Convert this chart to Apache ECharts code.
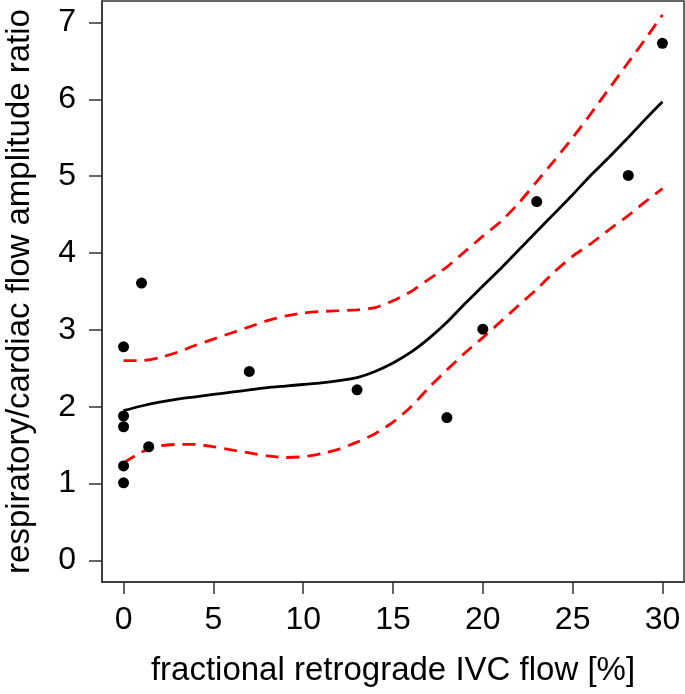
<!DOCTYPE html>
<html>
<head>
    <meta charset="utf-8">
    <title>ECharts</title>
    <script src="https://fastly.jsdelivr.net/npm/echarts@6/dist/echarts.min.js"></script>
    <style>
        html, body { margin: 0; padding: 0; background: #fff; }
    </style>
</head>
<body>
    <div id="main" style="width: 685px;height:694px;"></div>
    <script type="text/javascript">
        // observed points: [retrograde IVC flow %, amplitude ratio]
        var points = [
            [0, 2.78], [0, 1.88], [0, 1.74], [0, 1.23], [0, 1.01],
            [1.0, 3.61], [1.4, 1.48], [7.0, 2.46], [13.0, 2.22],
            [18.0, 1.86], [20.0, 3.01], [23.0, 4.67], [28.1, 5.01], [30.0, 6.73]
        ];

        // x positions of the fitted curve and its bands
        var fitX = [0, 1, 2, 3, 4, 5, 6, 7, 8, 9, 10, 11, 12, 13, 14, 15,
                    16, 17, 18, 19, 20, 21, 22, 23, 24, 25, 26, 27, 28, 29, 30];
        var fitMid = [1.95, 2.01, 2.06, 2.10, 2.13, 2.16, 2.19, 2.22, 2.25, 2.27, 2.29,
                      2.31, 2.34, 2.38, 2.46, 2.57, 2.71, 2.89, 3.10, 3.34, 3.57,
                      3.80, 4.04, 4.28, 4.52, 4.76, 5.01, 5.24, 5.48, 5.73, 5.97];
        var fitUpper = [2.60, 2.60, 2.64, 2.71, 2.80, 2.88, 2.96, 3.04, 3.12, 3.18, 3.22,
                        3.24, 3.25, 3.26, 3.29, 3.38, 3.50, 3.66, 3.82, 4.02, 4.22,
                        4.41, 4.65, 4.93, 5.21, 5.50, 5.81, 6.13, 6.45, 6.77, 7.10];
        var fitLower = [1.27, 1.41, 1.49, 1.51, 1.51, 1.48, 1.44, 1.40, 1.36, 1.34, 1.35,
                        1.39, 1.45, 1.54, 1.65, 1.80, 2.00, 2.25, 2.48, 2.70, 2.90,
                        3.11, 3.32, 3.53, 3.76, 3.96, 4.12, 4.30, 4.47, 4.66, 4.84];

        var xTicks = [0, 5, 10, 15, 20, 25, 30];
        var yTicks = [0, 1, 2, 3, 4, 5, 6, 7];

        function pair(xs, ys) {
            return xs.map(function (x, i) { return [x, ys[i]]; });
        }

        var font = "'Liberation Sans', Helvetica, Arial, sans-serif";
        var axisColor = '#333';

        var myChart = echarts.init(document.getElementById('main'));

        var option = {
            animation: false,
            backgroundColor: '#fff',
            textStyle: { fontFamily: font },
            grid: {
                left: 102, right: 1, top: 1, bottom: 112,
                show: true,
                borderColor: axisColor,
                borderWidth: 1.5,
                containLabel: false,
                outerBoundsMode: 'none'
            },
            xAxis: {
                type: 'value',
                min: -1.2, max: 31.2,
                name: 'fractional retrograde IVC flow [%]',
                nameLocation: 'middle',
                nameGap: 72,
                nameTextStyle: { fontSize: 33, color: '#000', fontFamily: font },
                axisLine: { show: true, onZero: false, lineStyle: { color: axisColor, width: 1.5 } },
                axisTick: { show: true, inside: false, length: 12, customValues: xTicks,
                            lineStyle: { color: axisColor, width: 1.5 } },
                axisLabel: { customValues: xTicks, fontSize: 32, color: '#000', margin: 22,
                             fontFamily: font },
                splitLine: { show: false }
            },
            yAxis: {
                type: 'value',
                min: -0.28, max: 7.28,
                name: 'respiratory/cardiac flow amplitude ratio',
                nameLocation: 'middle',
                nameGap: 66,
                nameTextStyle: { fontSize: 33, color: '#000', fontFamily: font },
                axisLine: { show: true, onZero: false, lineStyle: { color: axisColor, width: 1.5 } },
                axisTick: { show: true, inside: false, length: 13, customValues: yTicks,
                            lineStyle: { color: axisColor, width: 1.5 } },
                axisLabel: { customValues: yTicks, fontSize: 32, color: '#000', margin: 26,
                             fontFamily: font },
                splitLine: { show: false }
            },
            series: [
                {
                    type: 'line',
                    data: pair(fitX, fitUpper),
                    showSymbol: false,
                    smooth: 0.2,
                    lineStyle: { color: '#ff0000', width: 2.8, type: [13, 8] },
                    z: 2
                },
                {
                    type: 'line',
                    data: pair(fitX, fitLower),
                    showSymbol: false,
                    smooth: 0.2,
                    lineStyle: { color: '#ff0000', width: 2.8, type: [13, 8] },
                    z: 2
                },
                {
                    type: 'line',
                    data: pair(fitX, fitMid),
                    showSymbol: false,
                    smooth: 0.2,
                    lineStyle: { color: '#000', width: 2.8 },
                    z: 3
                },
                {
                    type: 'scatter',
                    data: points,
                    symbol: 'circle',
                    symbolSize: 11,
                    itemStyle: { color: '#000', opacity: 1 },
                    z: 4
                }
            ]
        };

        myChart.setOption(option);
    </script>
</body>
</html>
